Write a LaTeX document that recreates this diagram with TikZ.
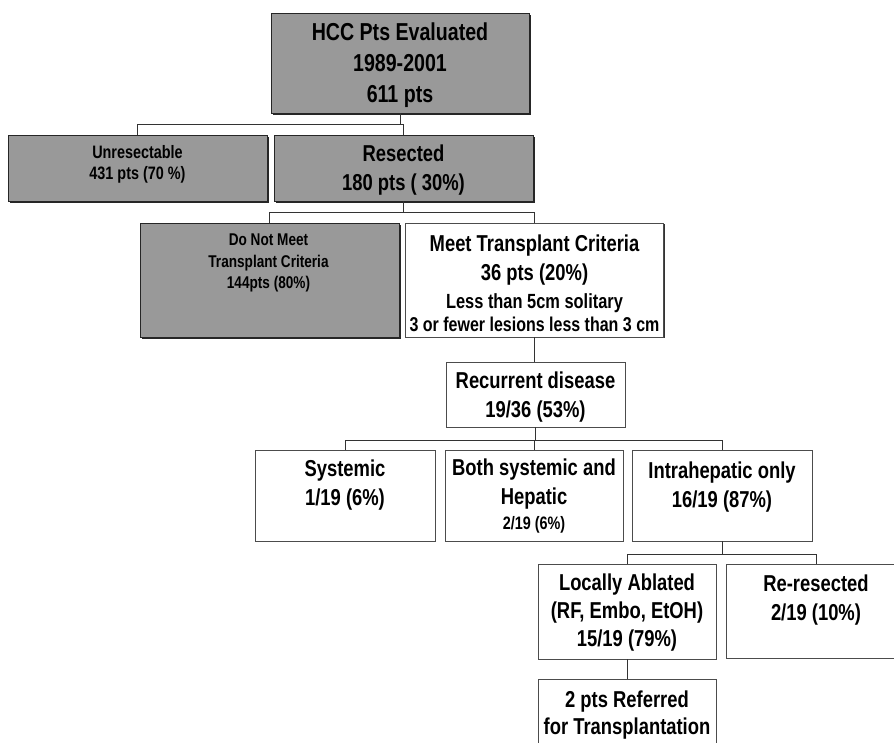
\documentclass[tikz,border=0pt]{standalone}
\usepackage{fontspec}
\setmainfont{Liberation Sans Bold}[FakeStretch=0.80]
\usetikzlibrary{shadows}
\begin{document}
\begin{tikzpicture}[x=1pt,y=-1pt,
  gbox/.style={draw=black!85, line width=0.8pt, fill=black!40, inner sep=0pt,
    drop shadow={shadow xshift=1.6pt, shadow yshift=-1.6pt, opacity=1, fill=black!85}},
  wbox/.style={draw=black!70, line width=0.7pt, fill=white, inner sep=0pt,
    drop shadow={shadow xshift=1.4pt, shadow yshift=-1.4pt, opacity=1, fill=black!80}},
  txt/.style={align=center, inner sep=0pt, anchor=north, font=\fontsize{23}{29.5}\selectfont},
  conn/.style={draw=black!80, line width=0.9pt}]
\fill[white] (0,0) rectangle (894,743);
\useasboundingbox (0,0) rectangle (894,743);

% boxes
\node[gbox, minimum width=258pt, minimum height=100pt] (top) at (400,63) {};
\node[gbox, minimum width=259pt, minimum height=66pt] (unres) at (137.5,168) {};
\node[gbox, minimum width=259pt, minimum height=66pt] (res) at (403.5,168) {};
\node[gbox, minimum width=259pt, minimum height=114pt] (dnm) at (269.5,280) {};
\node[wbox, minimum width=258pt, minimum height=114pt] (meet) at (534.5,280) {};
\node[wbox, minimum width=179pt, minimum height=65pt] (rec) at (535.5,394.5) {};
\node[wbox, minimum width=180pt, minimum height=91pt] (sys) at (345,495.5) {};
\node[wbox, minimum width=178pt, minimum height=91pt] (both) at (534,495.5) {};
\node[wbox, minimum width=180pt, minimum height=91pt] (intra) at (722,495.5) {};
\node[wbox, minimum width=178pt, minimum height=95pt] (loc) at (627,611.5) {};
\node[wbox, minimum width=180pt, minimum height=94pt] (rer) at (816,611) {};
\node[wbox, minimum width=178pt, minimum height=91pt] (ref) at (627,724.5) {};

% texts
\node[txt, font=\fontsize{24.5}{31}\selectfont] (topt) at (400,22.6) {HCC Pts Evaluated\\1989-2001\\611 pts};
\node[txt, font=\fontsize{18}{21.5}\selectfont] (unrest) at (137.5,145) {Unresectable\\431 pts (70 \%)};
\node[txt] (rest) at (403.5,144.5) {Resected\\180 pts ( 30\%)};
\node[txt, font=\fontsize{17}{21.5}\selectfont] (dnmt) at (268.5,233.7) {Do Not Meet\\Transplant Criteria\\144pts (80\%)};
\node[txt] (meett) at (534.5,234.5) {Meet Transplant Criteria\\36 pts (20\%)\\[-1.5pt]{\fontsize{20.5}{24}\selectfont Less than 5cm solitary}\\[-6.5pt]{\fontsize{20}{24}\selectfont 3 or fewer lesions less than 3 cm}};
\node[txt] (rect) at (535.5,371.5) {Recurrent disease\\19/36 (53\%)};
\node[txt] (syst) at (345,459.5) {Systemic\\1/19 (6\%)};
\node[txt] (botht) at (534,458.5) {Both systemic and\\Hepatic\\[-5pt]{\fontsize{18}{22}\selectfont 2/19 (6\%)}};
\node[txt] (intrat) at (722,461.5) {Intrahepatic only\\16/19 (87\%)};
\node[txt, font=\fontsize{23}{28}\selectfont] (loct) at (627,573.5) {Locally Ablated\\(RF, Embo, EtOH)\\15/19 (79\%)};
\node[txt] (rert) at (816,574.5) {Re-resected\\2/19 (10\%)};
\node[txt, font=\fontsize{23}{27}\selectfont] (reft) at (627,690.5) {2 pts Referred\\for Transplantation};

% connectors
\draw[conn] (top.south) -- ++(0,11) -| (unres.north);
\draw[conn] (top.south) -- ++(0,11) -| (res.north);
\draw[conn] (res.south) -- ++(0,11) -| (dnm.north);
\draw[conn] (res.south) -- ++(0,11) -| (meet.north);
\draw[conn] (meet.south) -- (meet.south |- rec.north);
\draw[conn] (rec.south) -- ++(0,13) -| (sys.north);
\draw[conn] (rec.south) -- ++(0,13) -| (both.north);
\draw[conn] (rec.south) -- ++(0,13) -| (intra.north);
\draw[conn] (intra.south) -- ++(0,13) -| (loc.north);
\draw[conn] (intra.south) -- ++(0,13) -| (rer.north);
\draw[conn] (loc.south) -- (loc.south |- ref.north);
\end{tikzpicture}
\end{document}
